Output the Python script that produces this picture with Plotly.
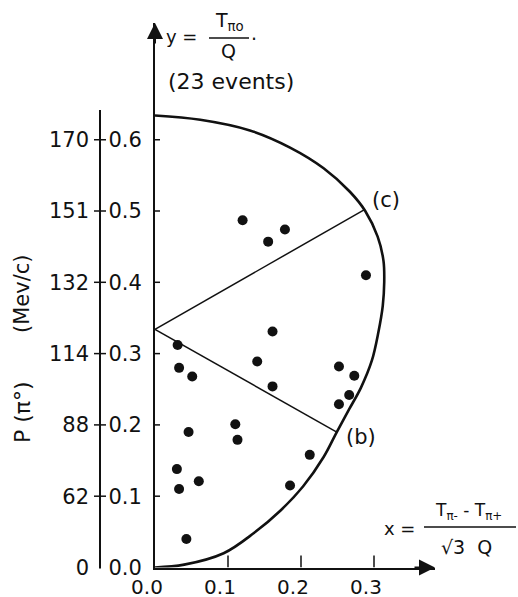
import plotly.graph_objects as go

# ---------------- data ----------------
event_x = [0.031, 0.033, 0.051, 0.140, 0.161, 0.161, 0.252, 0.273, 0.266, 0.252,
           0.046, 0.110, 0.113, 0.030, 0.033, 0.060, 0.212, 0.185, 0.043,
           0.120, 0.155, 0.178, 0.289]
event_y = [0.312, 0.280, 0.268, 0.289, 0.331, 0.254, 0.282, 0.269, 0.242, 0.229,
           0.190, 0.201, 0.179, 0.138, 0.110, 0.121, 0.158, 0.115, 0.040,
           0.487, 0.457, 0.474, 0.410]

boundary_x = [0.0, 0.040, 0.094, 0.135, 0.172, 0.203, 0.231, 0.249, 0.266, 0.282,
              0.297, 0.306, 0.312, 0.314, 0.313, 0.305, 0.288, 0.267, 0.231, 0.185,
              0.130, 0.062, 0.0]
boundary_y = [0.0, 0.004, 0.020, 0.048, 0.080, 0.114, 0.155, 0.190, 0.222, 0.252,
              0.290, 0.330, 0.367, 0.400, 0.430, 0.464, 0.500, 0.527, 0.560, 0.589,
              0.613, 0.628, 0.634]

line_b_x = [0.0, 0.249]
line_b_y = [0.334, 0.190]
line_c_x = [0.0, 0.287]
line_c_y = [0.334, 0.502]

x_tick_vals = [0.0, 0.1, 0.2, 0.3]
x_tick_text = ["0.0", "0.1", "0.2", "0.3"]
y_tick_vals = [0.0, 0.1, 0.2, 0.3, 0.4, 0.5, 0.6]
y_tick_text = ["0.0", "0.1", "0.2", "0.3", "0.4", "0.5", "0.6"]
p_tick_text = ["0", "62", "88", "114", "132", "151", "170"]

# ---------------- layout geometry (pixels) ----------------
W, H = 518, 597
X0PX, XSCALE, XENDPX = 155, 730.0, 435
Y0PX, YSCALE, YTOPPX = 567.5, 713.0, 23
P_AXIS_PX = 100
P_AXIS_TOP_PX = 110

FONT = "DejaVu Sans"
BLACK = "#111111"


def px(xp):
    return xp / W


def py(yp):
    return (H - yp) / H


x_max = (XENDPX - X0PX) / XSCALE
y_max = (Y0PX - YTOPPX) / YSCALE

fig = go.Figure()

# boundary
fig.add_trace(go.Scatter(x=boundary_x, y=boundary_y, mode="lines",
                         line=dict(color=BLACK, width=2.6, shape="spline", smoothing=1.0),
                         hoverinfo="skip", showlegend=False, cliponaxis=False))
# lines (b) and (c)
fig.add_trace(go.Scatter(x=line_b_x, y=line_b_y, mode="lines",
                         line=dict(color=BLACK, width=1.5), hoverinfo="skip",
                         showlegend=False))
fig.add_trace(go.Scatter(x=line_c_x, y=line_c_y, mode="lines",
                         line=dict(color=BLACK, width=1.5), hoverinfo="skip",
                         showlegend=False))
# events
fig.add_trace(go.Scatter(x=event_x, y=event_y, mode="markers",
                         marker=dict(color=BLACK, size=10), showlegend=False,
                         name="events"))
# dummy trace registering the momentum axis
fig.add_trace(go.Scatter(x=[], y=[], xaxis="x", yaxis="y2", showlegend=False,
                         hoverinfo="skip"))

tickfont = dict(family=FONT, size=21, color=BLACK)
ydom = [py(Y0PX), py(YTOPPX)]
xdom = [px(X0PX), px(XENDPX)]

fig.update_layout(
    width=W, height=H,
    margin=dict(l=0, r=0, t=0, b=0, pad=0),
    paper_bgcolor="white",
    plot_bgcolor="rgba(0,0,0,0)",
    showlegend=False,
    xaxis=dict(domain=xdom, range=[0, x_max], showgrid=False,
               zeroline=False, showline=True, linecolor=BLACK, linewidth=2,
               tickmode="array", tickvals=x_tick_vals, ticktext=x_tick_text,
               ticks="", tickfont=dict(family=FONT, size=20, color=BLACK),
               ticklabelshift=-8, ticklabelstandoff=0,
               automargin=False, fixedrange=True),
    yaxis=dict(domain=ydom, range=[0, y_max], showgrid=False, zeroline=False,
               showline=True, linecolor=BLACK, linewidth=2,
               tickmode="array", tickvals=y_tick_vals, ticktext=y_tick_text,
               ticks="", tickfont=tickfont, ticklabelstandoff=7,
               automargin=False, fixedrange=True),
    # momentum scale P(pi0)
    yaxis2=dict(overlaying="y", anchor="free", position=px(P_AXIS_PX), side="left",
                range=[0, y_max], showgrid=False, zeroline=False, showline=False,
                tickmode="array", tickvals=y_tick_vals, ticktext=p_tick_text,
                ticks="", tickfont=tickfont, ticklabelstandoff=11,
                automargin=False, fixedrange=True),
)

shapes = []
# P axis vertical line
shapes.append(dict(type="line", xref="paper", yref="paper",
                   x0=px(P_AXIS_PX), x1=px(P_AXIS_PX), y0=py(Y0PX + 1), y1=py(P_AXIS_TOP_PX),
                   line=dict(color=BLACK, width=2)))
# tick marks: upward on x, crossing on both vertical scales
x_tick_len = 12 / YSCALE
for v in x_tick_vals[1:]:
    shapes.append(dict(type="line", xref="x", yref="y", x0=v, x1=v,
                       y0=0, y1=x_tick_len, line=dict(color=BLACK, width=1.5)))
for v in y_tick_vals[1:]:
    shapes.append(dict(type="line", xref="x", yref="y", y0=v, y1=v,
                       xsizemode="pixel", xanchor=0, x0=-5, x1=5,
                       line=dict(color=BLACK, width=1.5)))
    shapes.append(dict(type="line", xref="paper", yref="y", y0=v, y1=v,
                       xsizemode="pixel", xanchor=px(P_AXIS_PX), x0=-6, x1=6,
                       line=dict(color=BLACK, width=1.5)))
# fraction bars
shapes.append(dict(type="line", xref="paper", yref="paper",
                   x0=px(209), x1=px(249), y0=py(38), y1=py(38),
                   line=dict(color=BLACK, width=1.5)))
shapes.append(dict(type="line", xref="paper", yref="paper",
                   x0=px(424), x1=px(516), y0=py(527), y1=py(527),
                   line=dict(color=BLACK, width=1.5)))
fig.update_layout(shapes=shapes)

ann = []


def label(text, xp, yp, size=21, angle=0):
    ann.append(dict(text=text, xref="paper", yref="paper", x=px(xp), y=py(yp),
                    xanchor="center", yanchor="middle", showarrow=False,
                    textangle=angle, font=dict(family=FONT, size=size, color=BLACK)))


# axis arrowheads
ann.append(dict(x=0, y=y_max, xref="x", yref="y", ax=0, ay=22, axref="pixel",
                ayref="pixel", showarrow=True, arrowhead=2, arrowsize=1.6,
                arrowwidth=2, arrowcolor=BLACK, text=""))
ann.append(dict(x=x_max, y=0, xref="x", yref="y", ax=-22, ay=0, axref="pixel",
                ayref="pixel", showarrow=True, arrowhead=2, arrowsize=1.6,
                arrowwidth=2, arrowcolor=BLACK, text=""))

label("y =", 181, 37, size=18)
label("T<sub>πo</sub>", 229, 22, size=19)
label("Q", 228, 51, size=19)
label(".", 254, 33, size=19)
label("(23 events)", 231, 81, size=22)
label("(c)", 386, 200, size=21)
label("(b)", 361, 437, size=21)
label("x =", 399, 528, size=18)
label("T<sub>π-</sub> - T<sub>π+</sub>", 468, 511, size=17)
label("√3  Q", 466, 547, size=19)
label("(Mev/c)", 22, 294, size=21, angle=-90)
label("P (π°)", 22, 412, size=22, angle=-90)

fig.update_layout(annotations=ann)

fig.write_html(
    "out.html",
    config={"displayModeBar": False},
    post_script="document.body.style.margin='0';"
                "document.documentElement.style.overflow='hidden';",
)
